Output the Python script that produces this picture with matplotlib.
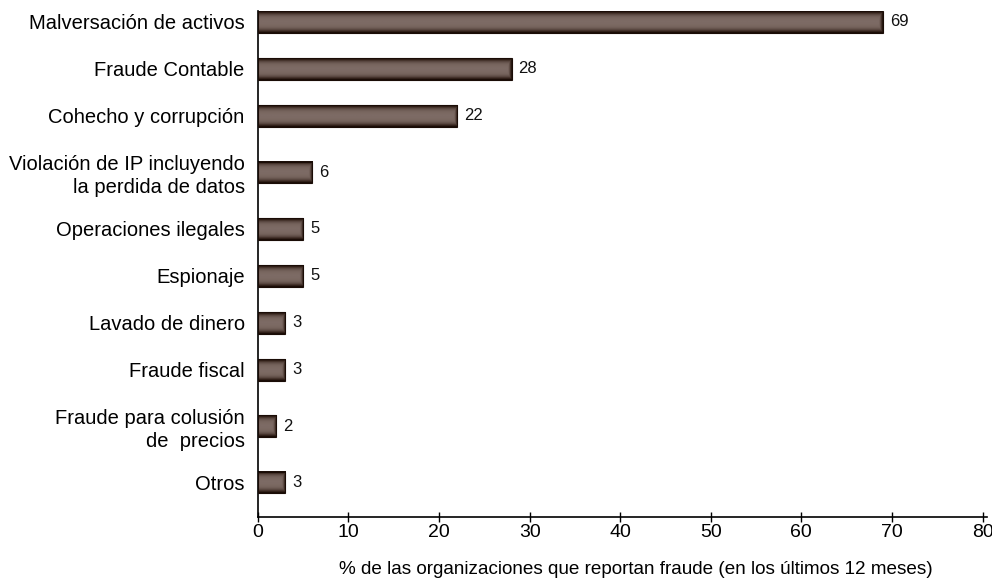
import numpy as np
import matplotlib
matplotlib.use("Agg")
import matplotlib.pyplot as plt
from matplotlib.colors import LinearSegmentedColormap

categories = [
    "Malversación de activos",
    "Fraude Contable",
    "Cohecho y corrupción",
    "Violación de IP incluyendo\nla perdida de datos",
    "Operaciones ilegales",
    "Espionaje",
    "Lavado de dinero",
    "Fraude fiscal",
    "Fraude para colusión\nde  precios",
    "Otros",
]
values = [69, 28, 22, 6, 5, 5, 3, 3, 2, 3]
xticks = [0, 10, 20, 30, 40, 50, 60, 70, 80]
xlabel = "% de las organizaciones que reportan fraude (en los últimos 12 meses)"

plt.rcParams['font.family'] = ['Liberation Sans', 'DejaVu Sans']

fig = plt.figure(figsize=(9.92, 5.8), dpi=100)
ax = fig.add_axes([0.26, 0.1086, 0.995 - 0.26, 0.981 - 0.1086])

# positions: extra spacing around multi-line labels
pos = [0.0]
for i in range(1, len(categories)):
    extra = 0.2 * ((categories[i - 1].count("\n")) + (categories[i].count("\n")))
    pos.append(pos[-1] + 1.0 + extra)
pos = np.array(pos)
h = 0.46

cmap = LinearSegmentedColormap.from_list(
    "bar", ["#1c0e08", "#3a2820", "#5e4c45", "#75635c", "#7d6b65"])

bars = ax.barh(pos, values, height=h, color="none", edgecolor="#1a0c06", linewidth=0.8, zorder=3)
for b, v, p in zip(bars, values, pos):
    x0, y0, w, hh = b.get_x(), b.get_y(), b.get_width(), b.get_height()
    ncols = max(int(w * 9), 4)
    nrows = 22
    t = np.linspace(0, 1, nrows)
    vert = np.sin(np.pi * t) ** 0.9
    horiz = np.ones(ncols)
    k = min(4, ncols)
    horiz[-k:] = np.linspace(0.75, 0.1, k)
    horiz[:1] = 0.8
    arr = np.minimum(vert[:, None], horiz[None, :])
    ax.imshow(arr, cmap=cmap, vmin=0, vmax=1, extent=[x0, x0 + w, y0 + hh, y0],
              aspect="auto", interpolation="bilinear", zorder=2)
    ax.text(x0 + w + 0.75, p, str(v), va="center", ha="left",
            fontsize=12, color="#111111")

ax.set_xlim(0, 80.5)
ax.set_ylim(10.53, -h / 2)
ax.set_yticks(pos)
ax.set_yticklabels(categories, fontsize=14.5, linespacing=1.22)
ax.tick_params(axis="y", length=0, pad=9.5)
ax.set_xticks(xticks)
ax.set_xticklabels([str(t) for t in xticks], fontsize=14)
ax.tick_params(axis="x", direction="inout", length=7, width=1, pad=1.5)
ax.set_xlabel(xlabel, fontsize=13.6)
ax.xaxis.set_label_coords(0.518, -0.087)
for s in ["top", "right"]:
    ax.spines[s].set_visible(False)
ax.spines["left"].set_linewidth(1.2)
ax.spines["bottom"].set_linewidth(1.2)

fig.savefig("out.png", dpi=100)
